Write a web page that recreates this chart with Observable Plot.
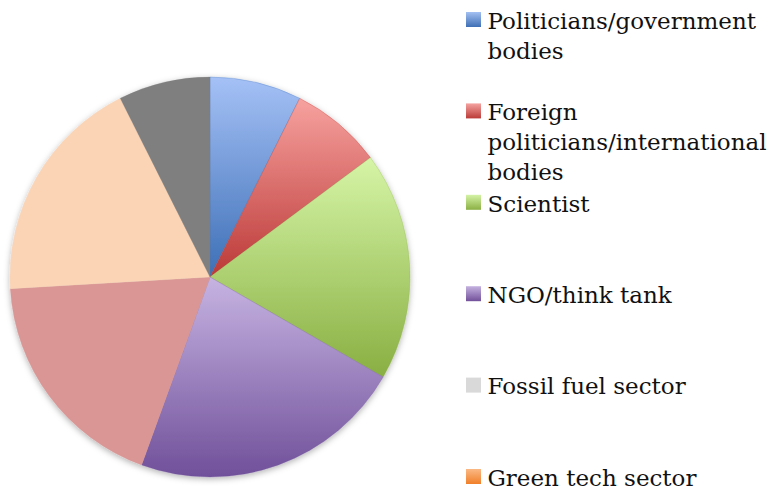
<!DOCTYPE html>
<html>
<head>
<meta charset="utf-8">
<script src="https://cdn.jsdelivr.net/npm/d3@7"></script>
<script src="https://cdn.jsdelivr.net/npm/@observablehq/plot@0.6"></script>
<style>
  html, body { margin: 0; padding: 0; background: #ffffff; }
  #chart { width: 770px; height: 491px; }
</style>
</head>
<body>
<div id="chart"></div>
<script>
// ---- Data ----
const categories = [
  "Politicians/government bodies",
  "Foreign politicians/international bodies",
  "Scientist",
  "NGO/think tank",
  "Fossil fuel sector",
  "Green tech sector",
  "Other"
];
const values = [2, 2, 5, 6, 5, 5, 2];

// slice gradient colours (top -> bottom)
const sliceTop    = ["#A5C1F6", "#F7A29F", "#D6F5A7", "#C7B4E2", "#D99694", "#FAD4B5", "#7F7F7F"];
const sliceBottom = ["#3D6FB6", "#BB3937", "#89AF42", "#70509A", "#D99694", "#FAD4B5", "#7F7F7F"];

// legend (only six entries are visible in the reference)
const legendLabels = [
  "Politicians/government\nbodies",
  "Foreign\npoliticians/international\nbodies",
  "Scientist",
  "NGO/think tank",
  "Fossil fuel sector",
  "Green tech sector"
];
const legendTop    = ["#A3C0F2", "#F5A3A0", "#D4F3A5", "#C5B2E0", "#D9D9D9", "#FBB985"];
const legendBottom = ["#3F6FB5", "#BB3B38", "#8BB044", "#71509A", "#D9D9D9", "#F07F2A"];

// ---- Layout constants ----
const W = 770, H = 491;
const PIE = {cx: 210, cy: 277, r: 200};
const LEG = {x: 466, sw: 15, textX: 487, top: 12, step: 91.4};
const FONT = "'DejaVu Serif', 'Liberation Serif', serif";

const slices = categories.map((c, i) => ({category: c, value: values[i], i}));
const legend = legendLabels.map((label, i) => ({label, i}));

function defsMark() {
  const svg = d3.create("svg:g");
  const defs = svg.append("defs");
  slices.forEach((s, i) => {
    const g = defs.append("linearGradient").attr("id", "sg" + i)
      .attr("x1", 0).attr("y1", 0).attr("x2", 0).attr("y2", 1);
    g.append("stop").attr("offset", "0%").attr("stop-color", sliceTop[i]);
    g.append("stop").attr("offset", "100%").attr("stop-color", sliceBottom[i]);
  });
  legend.forEach((l, i) => {
    const g = defs.append("linearGradient").attr("id", "lg" + i)
      .attr("x1", 0).attr("y1", 0).attr("x2", 0).attr("y2", 1);
    g.append("stop").attr("offset", "0%").attr("stop-color", legendTop[i]);
    g.append("stop").attr("offset", "100%").attr("stop-color", legendBottom[i]);
  });
  const f = defs.append("filter").attr("id", "pieShadow")
    .attr("x", "-10%").attr("y", "-10%").attr("width", "120%").attr("height", "120%");
  f.append("feDropShadow").attr("dx", 0).attr("dy", 2)
    .attr("stdDeviation", 3).attr("flood-color", "#000").attr("flood-opacity", 0.3);
  return svg.node();
}

function pieMark(index, scales) {
  const {x, y} = scales;
  const r = x(PIE.cx + PIE.r) - x(PIE.cx);
  const arcs = d3.pie().sort(null).value(d => d.value)(slices);
  const arc = d3.arc().innerRadius(0).outerRadius(r);
  const g = d3.create("svg:g")
    .attr("transform", `translate(${x(PIE.cx)},${y(PIE.cy)})`)
    .attr("filter", "url(#pieShadow)");
  g.selectAll("path").data(arcs).join("path")
    .attr("d", arc)
    .attr("fill", d => `url(#sg${d.data.i})`)
    .attr("stroke", d => sliceBottom[d.data.i])
    .attr("stroke-width", 0.3);
  return g.node();
}

const chart = Plot.plot({
  width: W,
  height: H,
  margin: 0,
  x: {domain: [0, W], range: [0, W], axis: null},
  y: {domain: [0, H], range: [0, H], axis: null},
  color: {type: "identity"},
  style: {background: "#ffffff", overflow: "visible"},
  marks: [
    defsMark,
    pieMark,
    Plot.rect(legend, {
      x1: () => LEG.x,
      x2: () => LEG.x + LEG.sw,
      y1: d => LEG.top + d.i * LEG.step,
      y2: d => LEG.top + d.i * LEG.step + LEG.sw,
      fill: d => `url(#lg${d.i})`
    }),
    Plot.text(legend, {
      x: () => LEG.textX,
      y: d => LEG.top + d.i * LEG.step - 5,
      text: "label",
      textAnchor: "start",
      lineAnchor: "top",
      lineHeight: 1.3,
      fontSize: 23,
      fontFamily: FONT,
      fill: "#111111"
    })
  ]
});

document.getElementById("chart").appendChild(chart);
</script>
</body>
</html>
